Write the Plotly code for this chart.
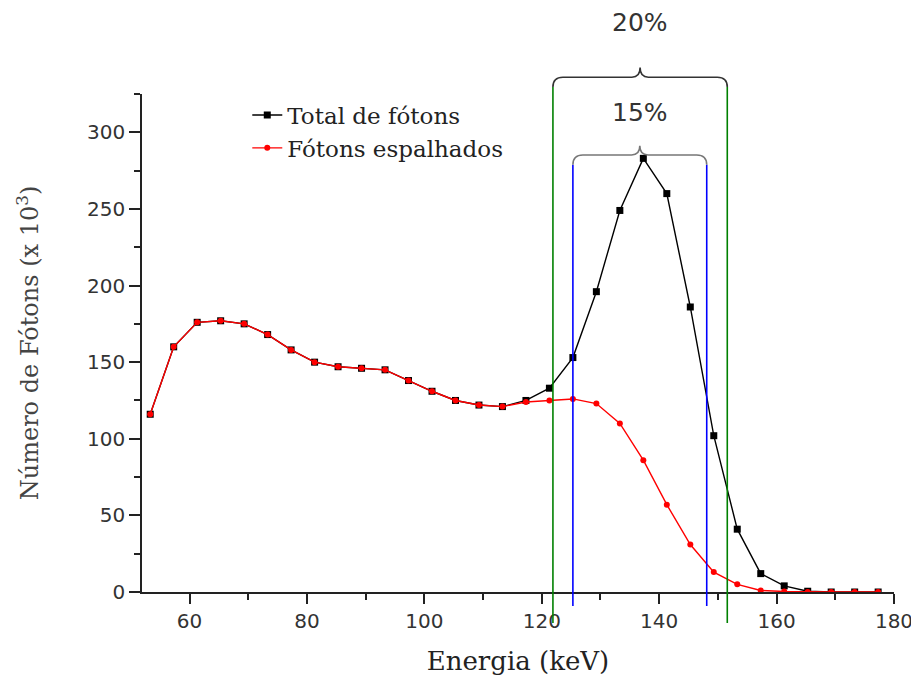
import plotly.graph_objects as go

# ---- data ----
energy_kev = [53.3, 57.3, 61.3, 65.3, 69.3, 73.3, 77.3, 81.3, 85.3, 89.3, 93.3, 97.3,
              101.3, 105.3, 109.3, 113.3, 117.3, 121.3, 125.3, 129.3, 133.3, 137.3,
              141.3, 145.3, 149.3, 153.3, 157.3, 161.3, 165.3, 169.3, 173.3, 177.3]
total_photons = [116, 160, 176, 177, 175, 168, 158, 150, 147, 146, 145, 138,
                 131, 125, 122, 121, 125, 133, 153, 196, 249, 283,
                 260, 186, 102, 41, 12, 4, 0.5, 0, 0, 0]
scattered_photons = [116, 160, 176, 177, 175, 168, 158, 150, 147, 146, 145, 138,
                     131, 125, 122, 121, 124, 125, 126, 123, 110, 86,
                     57, 31, 13, 5, 1, 0.3, 0, 0, 0, 0]
series_names = ["Total de fótons", "Fótons espalhados"]

window_20 = [121.9, 151.6]   # keV, green lines
window_15 = [125.3, 148.1]   # keV, blue lines
window_labels = ["20%", "15%"]

x_ticks = [60, 80, 100, 120, 140, 160, 180]
y_ticks = [0, 50, 100, 150, 200, 250, 300]

fig = go.Figure()
fig.add_trace(go.Scatter(
    x=energy_kev, y=total_photons, mode="lines+markers", name=series_names[0],
    line=dict(color="black", width=1.4),
    marker=dict(symbol="square", size=7, color="black")))
fig.add_trace(go.Scatter(
    x=energy_kev, y=scattered_photons, mode="lines+markers", name=series_names[1],
    line=dict(color="#ff0000", width=1.4),
    marker=dict(symbol="circle", size=6, color="#ff0000")))

gray = "#333333"


def brace(x0, x1, y_end, y_line, y_tip, r, r2):
    mid = (x0 + x1) / 2
    return (f"M {x0},{y_end} Q {x0},{y_line} {x0 + r},{y_line} "
            f"L {mid - r2},{y_line} Q {mid},{y_line} {mid},{y_tip} "
            f"Q {mid},{y_line} {mid + r2},{y_line} "
            f"L {x1 - r},{y_line} Q {x1},{y_line} {x1},{y_end}")


shapes = []
# window lines
for xv in window_20:
    shapes.append(dict(type="line", xref="x", yref="paper", x0=xv, x1=xv,
                       y0=-0.062, y1=1.014, line=dict(color="#008000", width=1.6)))
for xv in window_15:
    shapes.append(dict(type="line", xref="x", yref="paper", x0=xv, x1=xv,
                       y0=-0.028, y1=0.858, line=dict(color="#0000ff", width=1.6)))
# braces
shapes.append(dict(type="path", xref="x", yref="paper",
                   path=brace(window_20[0], window_20[1], 1.014, 1.0335, 1.053, 1.7, 1.4),
                   line=dict(color=gray, width=1.6)))
shapes.append(dict(type="path", xref="x", yref="paper",
                   path=brace(window_15[0], window_15[1], 0.858, 0.8776, 0.896, 1.7, 1.4),
                   line=dict(color="#777777", width=1.6)))

annotations = [
    dict(x=(window_20[0] + window_20[1]) / 2, y=1.1445, xref="x", yref="paper",
         xanchor="center", yanchor="middle",
         text=window_labels[0], showarrow=False,
         font=dict(family="DejaVu Sans", size=25, color=gray)),
    dict(x=(window_15[0] + window_15[1]) / 2, y=0.962, xref="x", yref="paper",
         xanchor="center", yanchor="middle",
         text=window_labels[1], showarrow=False,
         font=dict(family="DejaVu Sans", size=25, color=gray)),
]

# the page body adds an 8px margin, so the figure is 8px smaller than the window
fig.update_layout(
    width=911, height=670,
    margin=dict(l=134, r=25, t=86, b=86),
    paper_bgcolor="white", plot_bgcolor="white",
    shapes=shapes, annotations=annotations,
    showlegend=True,
    legend=dict(x=0.14, y=1.001, xanchor="left", yanchor="top",
                bgcolor="rgba(0,0,0,0)",
                font=dict(family="DejaVu Serif", size=23, color="#222")),
    xaxis=dict(range=[51.9, 180], tickvals=x_ticks, ticks="outside", ticklen=10,
               tickwidth=1.5, tickcolor="#222", showline=True, linecolor="#222",
               linewidth=1.5, showgrid=False, zeroline=False, automargin=False,
               minor=dict(dtick=10, tick0=60, ticks="outside", ticklen=6,
                          tickwidth=1.5, tickcolor="#222", showgrid=False),
               tickfont=dict(family="DejaVu Sans", size=20, color="#333"),
               title=dict(text="Energia (keV)", standoff=20,
                          font=dict(family="DejaVu Serif", size=26, color="#222"))),
    yaxis=dict(range=[0, 325], tickvals=y_ticks, ticks="outside", ticklen=11,
               tickwidth=1.5, tickcolor="#222", showline=True, linecolor="#222",
               linewidth=1.5, showgrid=False, zeroline=False, automargin=False,
               minor=dict(dtick=25, tick0=0, ticks="outside", ticklen=6,
                          tickwidth=1.5, tickcolor="#222", showgrid=False),
               tickfont=dict(family="DejaVu Sans", size=20, color="#333"),
               title=dict(text="Número de Fótons (x 10<sup>3</sup>)", standoff=42,
                          font=dict(family="DejaVu Serif", size=24, color="#444"))),
)

fig.write_html("out.html")
